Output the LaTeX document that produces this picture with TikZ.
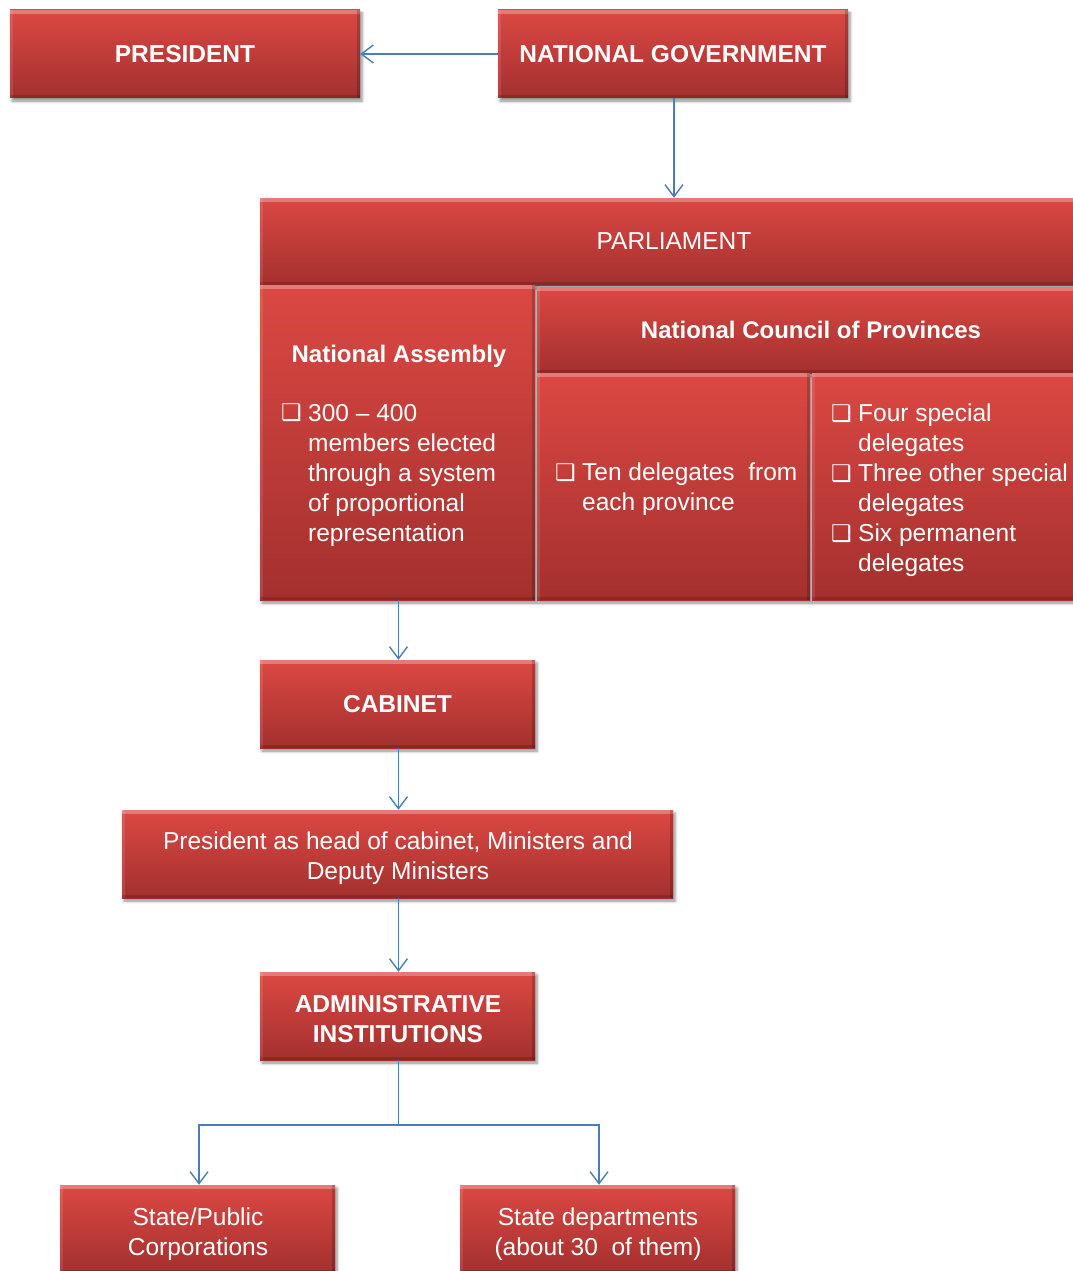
\documentclass[tikz,border=0pt]{standalone}
\usepackage{fontspec}
\setmainfont{Liberation Sans}
\newfontfamily\symfont{DejaVu Sans}
\usetikzlibrary{arrows.meta,shadows.blur}
\definecolor{boxtop}{HTML}{DC4843}
\definecolor{boxbot}{HTML}{A3302E}
\definecolor{linkblue}{HTML}{4A7EBB}
\newcommand\bx{\makebox[27pt][l]{\raisebox{0.5pt}{\symfont\fontsize{23}{20}\selectfont ❑}}}
\newcommand\ind{\hspace*{27pt}}
\begin{document}
\begin{tikzpicture}[x=1pt,y=-1pt,
  box/.style={rectangle, inner sep=0pt, text=white, align=center,
    top color=boxtop, bottom color=boxbot,
    font=\fontsize{24.5}{30}\selectfont,
    blur shadow={shadow xshift=2pt, shadow yshift=-3pt, shadow blur radius=3pt, shadow opacity=45},
    path picture={
      \fill[white, opacity=0.28] (path picture bounding box.north west) rectangle ([yshift=-4pt]path picture bounding box.north east);
      \fill[white, opacity=0.10] (path picture bounding box.north west) rectangle ([xshift=3pt]path picture bounding box.south west);
      \fill[black, opacity=0.15] (path picture bounding box.south west) rectangle ([yshift=3pt]path picture bounding box.south east);
      \fill[black, opacity=0.18] (path picture bounding box.north east) rectangle ([xshift=-3pt]path picture bounding box.south east);
    }},
  boldbox/.style={box, font=\fontsize{24.5}{30}\selectfont\bfseries},
  label/.style={text=white, inner sep=0pt, align=center, font=\fontsize{24.5}{30}\selectfont},
  boldlabel/.style={label, font=\fontsize{24.5}{30}\selectfont\bfseries},
  bullets/.style={label, align=left, anchor=north west},
  link/.style={draw=linkblue, line width=1.4pt, -{Straight Barb[length=12pt, width=18pt, line width=1.4pt]}}
]
\useasboundingbox (0,0) rectangle (1072,1271);

% top row
\node[boldbox, minimum width=350pt, minimum height=88pt] (pres) at (185,54) {PRESIDENT};
\node[boldbox, minimum width=350pt, minimum height=88pt] (natgov) at (673,54) {NATIONAL GOVERNMENT};

% parliament block
\node[box, minimum width=828pt, minimum height=87pt] (parl) at (674,241.5) {PARLIAMENT};
\node[box, minimum width=275pt, minimum height=315pt] (na) at (397.5,442.5) {};
\node[box, minimum width=553pt, minimum height=86pt] (ncop) at (813.5,330) {};
\node[box, minimum width=273pt, minimum height=227pt] (ten) at (673.5,486.5) {};
\node[box, minimum width=278pt, minimum height=227pt] (four) at (951,486.5) {};

\node[label, font=\fontsize{24}{30}\selectfont\bfseries] (natitle) at (399,356) {National Assembly};
\node[label, font=\fontsize{24}{30}\selectfont\bfseries] (ncoptitle) at (811,330) {National Council of Provinces};

\node[bullets] (natext) at (281,404) {\bx 300 – 400\\ \ind members elected\\ \ind through a system\\ \ind of proportional\\ \ind representation};
\node[bullets] (tentext) at (555,463) {\bx Ten delegates\ \ from\\ \ind each province};
\node[bullets] (fourtext) at (831,404) {\bx Four special\\ \ind delegates\\ \bx Three other special\\ \ind delegates\\ \bx Six permanent\\ \ind delegates};

% lower chain
\node[boldbox, minimum width=275pt, minimum height=88pt] (cab) at (397.5,704) {CABINET};
\node[box, minimum width=551pt, minimum height=88pt] (pmin) at (397.5,854) {};
\node[label] (pmintext) at (398,858) {President as head of cabinet, Ministers and\\ Deputy Ministers};
\node[box, minimum width=275pt, minimum height=88pt] (admin) at (397.5,1016) {};
\node[boldlabel] (admintext) at (398,1019) {ADMINISTRATIVE\\ INSTITUTIONS};
\node[box, minimum width=275pt, minimum height=88pt] (corp) at (197.5,1229) {};
\node[label] (corptext) at (198,1234) {State/Public\\ Corporations};
\node[box, minimum width=275pt, minimum height=88pt] (dept) at (597.5,1229) {};
\node[label] (depttext) at (598,1234) {State departments\\ (about 30\ \ of them)};

% connectors
\coordinate (split) at (398.5,1125);
\draw[link] (natgov.south -| 674,0) -- (parl.north -| 674,0);
\draw[link] (natgov.west) -- (pres.east);
\draw[link] (na.south -| 398.5,0) -- (cab.north -| 398.5,0);
\draw[link] (cab.south -| 398.5,0) -- (pmin.north -| 398.5,0);
\draw[link] (pmin.south -| 398.5,0) -- (admin.north -| 398.5,0);
\draw[draw=linkblue, line width=1.4pt] (admin.south -| split) -- (split);
\draw[link] (split) -| (corp.north -| 199,0);
\draw[link] (split) -| (dept.north -| 599,0);
\end{tikzpicture}
\end{document}
